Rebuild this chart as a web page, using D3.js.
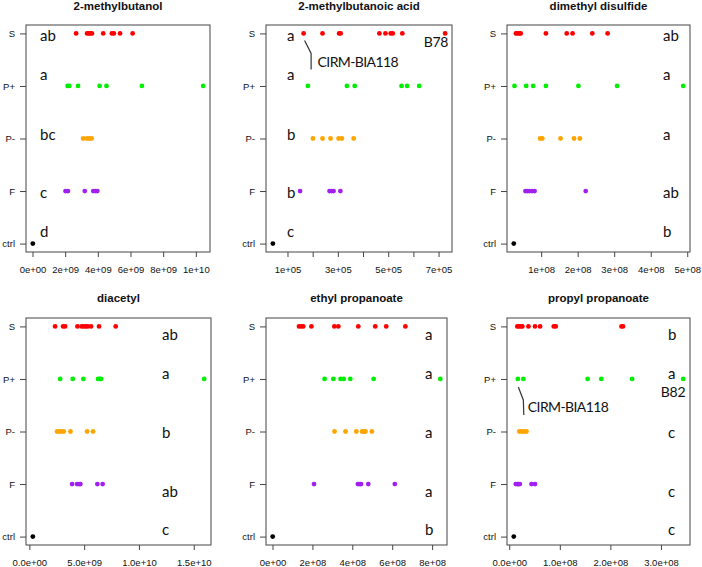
<!DOCTYPE html>
<html><head><meta charset="utf-8">
<script src="https://cdn.jsdelivr.net/npm/d3@7"></script>
<style>body{margin:0;background:#fff} svg{display:block}</style>
</head><body><svg id="c" width="702" height="567"></svg>
<script>
const groups = ["S","P+","P-","F","ctrl"];
const titles = ["2-methylbutanol","2-methylbutanoic acid","dimethyl disulfide","diacetyl","ethyl propanoate","propyl propanoate"];
const units = [1e9,1e5,1e8,1e9,1e8,1e8];

// values per group (S, P+, P-, F, ctrl), in the panel's unit
const vMethylbutanol = [
  [2.67,3.34,3.44,3.54,3.64,4.33,4.86,4.98,5.36,6.13],
  [2.15,2.25,2.79,4.11,4.53,6.70,10.45],
  [3.10,3.34,3.48,3.62],
  [2.02,2.17,3.20,3.72,3.87,3.97],
  [0.02]
];
const vMethylbutanoicAcid = [
  [1.64,2.39,3.05,3.11,4.65,4.89,5.10,5.18,5.56,7.26],
  [1.81,3.36,3.67,5.53,5.75,6.23],
  [2.01,2.39,2.71,3.03,3.16,3.63],
  [1.50,2.67,2.75,2.83,3.10],
  [0.42]
];
const vDimethylDisulfide = [
  [0.31,0.35,0.40,0.44,1.13,1.70,1.86,2.40,2.82],
  [0.27,0.59,0.78,1.13,2.02,3.08,4.89],
  [0.97,1.03,1.53,1.90,2.06],
  [0.57,0.62,0.67,0.75,0.82,2.22],
  [0.25]
];
const vDiacetyl = [
  [2.35,3.08,3.26,4.39,4.78,4.96,5.15,5.33,5.63,6.36,7.88],
  [2.81,3.96,4.93,6.27,6.42,6.54,15.95],
  [2.53,2.72,2.96,3.14,3.75,5.27,5.81],
  [3.90,4.36,4.54,4.66,6.21,6.69],
  [0.32]
];
const vEthylPropanoate = [
  [1.33,1.44,1.54,1.95,3.10,3.30,4.30,5.15,5.70,6.66],
  [2.61,3.05,3.41,3.57,3.90,5.07,8.41],
  [3.11,3.66,4.20,4.49,4.59,4.66,4.98],
  [2.08,4.28,4.38,4.44,4.80,6.13],
  [0.01]
];
const vPropylPropanoate = [
  [0.16,0.19,0.23,0.26,0.38,0.51,0.61,0.88,0.92,2.22,2.25],
  [0.17,0.28,1.55,1.82,2.43,3.44],
  [0.20,0.25,0.29,0.34],
  [0.13,0.16,0.18,0.21,0.44,0.51],
  [0.09]
];
const panelValues = [vMethylbutanol,vMethylbutanoicAcid,vDimethylDisulfide,vDiacetyl,vEthylPropanoate,vPropylPropanoate];

const tickValues = [
  [0,2,4,6,8,10],
  [1,2,3,4,5,6,7],
  [1,2,3,4,5],
  [0,5,10,15],
  [0,2,4,6,8],
  [0,1,2,3]
];
const tickLabels = [
  ["0e+00","2e+09","4e+09","6e+09","8e+09","1e+10"],
  ["1e+05","","3e+05","","5e+05","","7e+05"],
  ["1e+08","2e+08","3e+08","4e+08","5e+08"],
  ["0.0e+00","5.0e+09","1.0e+10","1.5e+10"],
  ["0e+00","2e+08","4e+08","6e+08","8e+08"],
  ["0.0e+00","1.0e+08","2.0e+08","3.0e+08"]
];
const letters = [
  ["ab","a","bc","c","d"],
  ["a","a","b","b","c"],
  ["ab","a","a","ab","b"],
  ["ab","a","b","ab","c"],
  ["a","a","a","a","b"],
  ["b","a","c","c","c"]
];
// strain annotations: panel, group, point index, text
const strainPanel = [1,1,5,5];
const strainGroup = [0,0,1,1];
const strainPoint = [0,9,0,5];
const strainText = ["CIRM-BIA118","B78","CIRM-BIA118","B82"];

// ---- layout / style ----
const colors = ["#ff0000","#00ee00","#ffa500","#a020f0","#000000"];
const boxes = [[26,210,25,252],[266,452,25,252],[507,690,25,252],[26,211,318,545],[266,447,318,545],[507,690,318,545]];
const letterX = [40,287,663,162,425,668];
const letterDyTop = [8,-5.6,1,6.6,-6.3];
const letterDyBottom = [14,0.3,6,13,-2];

const svg = d3.select("#c");
const axisColor = "#444";
const annFont = "Lato, 'Open Sans', sans-serif";

panelValues.forEach((vals, p) => {
  const [x0,x1,y0,y1] = boxes[p];
  const all = vals.flat();
  const mn = d3.min(all), mx = d3.max(all), pad = (mx-mn)*0.04;
  const x = d3.scaleLinear().domain([mn-pad, mx+pad]).range([x0,x1]);
  const y = d3.scaleLinear().domain([0.84,5.16]).range([y1,y0]);
  const gy = i => y(5-i);
  const g = svg.append("g");

  // title
  g.append("text").attr("x",(x0+x1)/2).attr("y", y0 - (p<3?15:16))
    .attr("text-anchor","middle").attr("font-family","Liberation Sans, Arial, sans-serif")
    .attr("font-weight","bold").attr("font-size","11.5px").attr("fill","#111").text(titles[p]);

  // box
  g.append("rect").attr("x",x0).attr("y",y0).attr("width",x1-x0).attr("height",y1-y0)
    .attr("fill","none").attr("stroke",axisColor).attr("stroke-width",1);

  // x axis
  const xa = d3.axisBottom(x).tickValues(tickValues[p]).tickSize(5).tickSizeOuter(0)
    .tickFormat((d,i)=>tickLabels[p][i]);
  const xg = g.append("g").attr("transform",`translate(0,${y1})`).call(xa);
  xg.select(".domain").remove();
  xg.selectAll(".tick line").attr("stroke",axisColor);
  xg.selectAll(".tick text").attr("font-family","Liberation Sans, Arial, sans-serif")
    .attr("font-size","9.5px").attr("fill","#111").attr("dy",0).attr("y",21);

  // y axis
  const ycat = d3.scalePoint().domain(groups).range([gy(0), gy(4)]);
  const ya = d3.axisLeft(ycat).tickSize(6).tickSizeOuter(0);
  const yg = g.append("g").attr("transform",`translate(${x0},0)`).call(ya);
  yg.select(".domain").remove();
  yg.selectAll(".tick line").attr("stroke",axisColor);
  yg.selectAll(".tick text").attr("font-family","Liberation Sans, Arial, sans-serif")
    .attr("font-size","9.5px").attr("fill","#111").attr("x",-11);

  // points
  vals.forEach((arr, gi) => {
    g.selectAll(null).data(arr).enter().append("circle")
      .attr("cx", d => x(d)).attr("cy", gy(gi)).attr("r",2.4).attr("fill",colors[gi]);
  });

  // significance letters
  const dy = p<3 ? letterDyTop : letterDyBottom;
  letters[p].forEach((t, gi) => {
    g.append("text").attr("x",letterX[p]).attr("y",gy(gi)+dy[gi])
      .attr("font-family",annFont).attr("font-size","15px")
      .attr("fill","#111").text(t);
  });

  // strain annotations
  strainPanel.forEach((sp, k) => {
    if (sp !== p) return;
    const px = x(vals[strainGroup[k]][strainPoint[k]]), py = gy(strainGroup[k]);
    const txt = strainText[k];
    if (txt === "CIRM-BIA118") {
      const o = p===1 ? [1,7,7.5,20,7.5,36,14,33.6] : [0.5,8,5.5,21,6,36,10,33.3];
      g.append("path").attr("d",`M${px+o[0]},${py+o[1]}L${px+o[2]},${py+o[3]}L${px+o[4]},${py+o[5]}`)
        .attr("fill","none").attr("stroke","#333").attr("stroke-width",1.2);
      g.append("text").attr("x",px+o[6]).attr("y",py+o[7])
        .attr("font-family",annFont).attr("font-size","14px").attr("letter-spacing","-0.6px")
        .attr("fill","#111").text(txt);
    } else {
      const off = p===1 ? [3,13.6] : [2,17.7];
      g.append("text").attr("x",px+off[0]).attr("y",py+off[1]).attr("text-anchor","end")
        .attr("font-family",annFont).attr("font-size","14px").attr("letter-spacing","-0.3px")
        .attr("fill","#111").text(txt);
    }
  });
});
</script></body></html>
